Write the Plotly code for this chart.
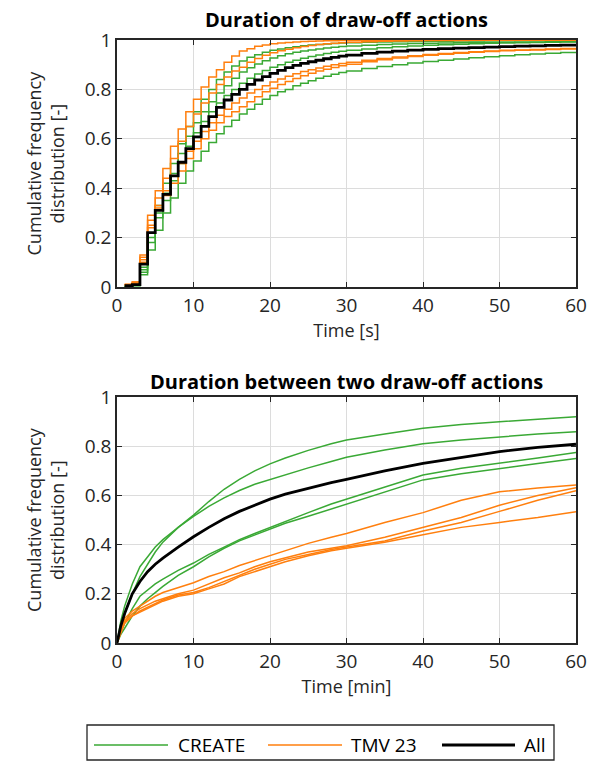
import plotly.graph_objects as go

# ---------------- Data: duration of draw-off actions (seconds) ----------------
x_top = [1, 2, 3, 4, 5, 6, 7, 8, 9, 10, 11, 12, 13, 14, 15, 16, 17, 18, 19, 20,
         21, 22, 23, 24, 25, 26, 27, 28, 29, 30, 32, 34, 36, 38, 40, 42, 44, 46,
         48, 50, 52, 54, 56, 58, 60]

create_top_1 = [0.003, 0.008, 0.08, 0.22, 0.33, 0.42, 0.50, 0.58, 0.65, 0.71, 0.76, 0.80,
                0.84, 0.87, 0.895, 0.915, 0.93, 0.94, 0.95, 0.958, 0.964, 0.969, 0.973,
                0.977, 0.98, 0.982, 0.984, 0.986, 0.988, 0.989, 0.991, 0.992, 0.993, 0.994,
                0.995, 0.995, 0.996, 0.996, 0.997, 0.997, 0.998, 0.998, 0.998, 0.999, 0.999]
create_top_2 = [0.003, 0.007, 0.07, 0.20, 0.30, 0.38, 0.46, 0.54, 0.61, 0.665, 0.71, 0.75,
                0.785, 0.815, 0.845, 0.87, 0.888, 0.903, 0.916, 0.927, 0.936, 0.944, 0.95,
                0.955, 0.96, 0.964, 0.968, 0.971, 0.974, 0.976, 0.979, 0.982, 0.984, 0.986,
                0.987, 0.988, 0.989, 0.99, 0.991, 0.991, 0.992, 0.992, 0.993, 0.993, 0.994]
create_top_3 = [0.003, 0.006, 0.06, 0.18, 0.28, 0.35, 0.43, 0.50, 0.57, 0.625, 0.67, 0.71,
                0.745, 0.775, 0.80, 0.825, 0.845, 0.862, 0.877, 0.89, 0.90, 0.91, 0.918,
                0.926, 0.933, 0.939, 0.945, 0.95, 0.954, 0.958, 0.964, 0.969, 0.973, 0.976,
                0.979, 0.981, 0.983, 0.985, 0.987, 0.988, 0.989, 0.99, 0.991, 0.992, 0.993]
create_top_4 = [0.002, 0.005, 0.05, 0.15, 0.23, 0.30, 0.36, 0.42, 0.47, 0.51, 0.55, 0.585,
                0.62, 0.65, 0.675, 0.70, 0.72, 0.74, 0.76, 0.775, 0.79, 0.80, 0.815, 0.825,
                0.835, 0.845, 0.853, 0.861, 0.868, 0.875, 0.885, 0.893, 0.90, 0.907, 0.913,
                0.918, 0.923, 0.928, 0.932, 0.936, 0.94, 0.943, 0.946, 0.949, 0.952]
tmv_top_1 = [0.01, 0.02, 0.13, 0.29, 0.39, 0.48, 0.57, 0.64, 0.71, 0.76, 0.81, 0.85, 0.88,
             0.91, 0.935, 0.955, 0.965, 0.975, 0.98, 0.985, 0.988, 0.99, 0.992, 0.994, 0.995,
             0.996, 0.997, 0.997, 0.998, 0.998, 0.999, 0.999, 0.999, 0.999, 1.0, 1.0, 1.0,
             1.0, 1.0, 1.0, 1.0, 1.0, 1.0, 1.0, 1.0]
tmv_top_2 = [0.008, 0.015, 0.11, 0.27, 0.36, 0.44, 0.52, 0.59, 0.65, 0.70, 0.745, 0.785,
             0.82, 0.85, 0.875, 0.89, 0.91, 0.925, 0.938, 0.948, 0.956, 0.963, 0.969, 0.974,
             0.978, 0.982, 0.985, 0.987, 0.989, 0.991, 0.993, 0.995, 0.996, 0.997, 0.998,
             0.998, 0.998, 0.999, 0.999, 0.999, 0.999, 0.999, 0.999, 0.999, 0.999]
tmv_top_3 = [0.01, 0.02, 0.12, 0.25, 0.33, 0.39, 0.45, 0.50, 0.55, 0.59, 0.63, 0.665, 0.695,
             0.72, 0.745, 0.765, 0.785, 0.80, 0.815, 0.83, 0.842, 0.853, 0.863, 0.872, 0.88,
             0.887, 0.894, 0.90, 0.905, 0.91, 0.918, 0.925, 0.931, 0.936, 0.941, 0.945,
             0.949, 0.952, 0.955, 0.958, 0.96, 0.962, 0.964, 0.966, 0.968]
tmv_top_4 = [0.01, 0.015, 0.10, 0.24, 0.32, 0.37, 0.42, 0.47, 0.52, 0.56, 0.60, 0.635,
             0.665, 0.69, 0.71, 0.73, 0.75, 0.77, 0.79, 0.805, 0.82, 0.832, 0.844, 0.855,
             0.865, 0.874, 0.882, 0.889, 0.896, 0.902, 0.912, 0.92, 0.927, 0.933, 0.938,
             0.942, 0.946, 0.95, 0.953, 0.956, 0.958, 0.96, 0.962, 0.964, 0.965]
all_top = [0.005, 0.01, 0.093, 0.22, 0.31, 0.375, 0.45, 0.505, 0.56, 0.608, 0.65, 0.69,
           0.727, 0.757, 0.78, 0.80, 0.82, 0.838, 0.852, 0.865, 0.877, 0.888, 0.897, 0.905,
           0.912, 0.918, 0.924, 0.93, 0.935, 0.939, 0.946, 0.951, 0.955, 0.959, 0.962,
           0.965, 0.967, 0.969, 0.971, 0.973, 0.975, 0.976, 0.978, 0.979, 0.98]

# ---------------- Data: duration between two draw-off actions (minutes) ----------------
x_bot = [0, 0.5, 1, 2, 3, 4, 5, 6, 8, 10, 12, 14, 16, 18, 20, 22, 25, 28, 30, 35, 40,
         45, 50, 55, 60]

create_bot_1 = [0, 0.07, 0.12, 0.20, 0.27, 0.32, 0.37, 0.41, 0.47, 0.52, 0.575, 0.625, 0.665,
                0.70, 0.728, 0.752, 0.783, 0.81, 0.825, 0.85, 0.873, 0.888, 0.90, 0.91, 0.92]
create_bot_2 = [0, 0.09, 0.15, 0.24, 0.31, 0.35, 0.39, 0.42, 0.47, 0.515, 0.555, 0.59, 0.62,
                0.645, 0.665, 0.685, 0.712, 0.738, 0.755, 0.785, 0.81, 0.825, 0.839, 0.85, 0.859]
create_bot_3 = [0, 0.045, 0.08, 0.14, 0.19, 0.215, 0.24, 0.26, 0.295, 0.325, 0.36, 0.39,
                0.42, 0.445, 0.47, 0.495, 0.53, 0.565, 0.585, 0.635, 0.683, 0.71, 0.73, 0.752, 0.774]
create_bot_4 = [0, 0.035, 0.06, 0.11, 0.15, 0.18, 0.205, 0.23, 0.275, 0.31, 0.35, 0.385,
                0.415, 0.44, 0.465, 0.487, 0.515, 0.545, 0.562, 0.612, 0.663, 0.688, 0.71, 0.73, 0.75]
tmv_bot_1 = [0, 0.06, 0.10, 0.13, 0.15, 0.17, 0.19, 0.205, 0.225, 0.245, 0.27, 0.29, 0.315,
             0.335, 0.355, 0.375, 0.405, 0.43, 0.445, 0.49, 0.53, 0.58, 0.615, 0.63, 0.642]
tmv_bot_2 = [0, 0.05, 0.09, 0.12, 0.14, 0.155, 0.17, 0.18, 0.20, 0.215, 0.24, 0.265, 0.285,
             0.31, 0.33, 0.345, 0.37, 0.385, 0.395, 0.43, 0.47, 0.51, 0.56, 0.60, 0.631]
tmv_bot_3 = [0, 0.05, 0.085, 0.11, 0.13, 0.145, 0.16, 0.175, 0.195, 0.205, 0.225, 0.25,
             0.275, 0.30, 0.32, 0.34, 0.36, 0.38, 0.39, 0.415, 0.455, 0.49, 0.535, 0.58, 0.619]
tmv_bot_4 = [0, 0.04, 0.08, 0.11, 0.125, 0.14, 0.155, 0.17, 0.19, 0.20, 0.22, 0.24, 0.27,
             0.29, 0.31, 0.33, 0.355, 0.375, 0.385, 0.41, 0.44, 0.47, 0.49, 0.51, 0.534]
all_bot = [0, 0.07, 0.12, 0.20, 0.25, 0.29, 0.32, 0.345, 0.39, 0.432, 0.47, 0.505, 0.535,
           0.56, 0.585, 0.605, 0.63, 0.652, 0.665, 0.70, 0.73, 0.755, 0.778, 0.795, 0.808]

x_ticks = [0, 10, 20, 30, 40, 50, 60]
y_ticks = [0, 0.2, 0.4, 0.6, 0.8, 1]
y_tick_text = ["0", "0.2", "0.4", "0.6", "0.8", "1"]
legend_names = ["CREATE", "TMV 23", "All"]

GREEN = "#3aa935"
ORANGE = "#ff7f0e"
BLACK = "#000000"
AXC = "#262626"
FONT = "Open Sans"
TICK_SIZE = 19
LABEL_SIZE = 18
TITLE_SIZE = 20

W, H = 590, 761
fig = go.Figure()

top_sets = [(create_top_1, GREEN, "CREATE"), (create_top_2, GREEN, "CREATE"),
            (create_top_3, GREEN, "CREATE"), (create_top_4, GREEN, "CREATE"),
            (tmv_top_1, ORANGE, "TMV 23"), (tmv_top_2, ORANGE, "TMV 23"),
            (tmv_top_3, ORANGE, "TMV 23"), (tmv_top_4, ORANGE, "TMV 23")]
for ys, col, name in top_sets:
    fig.add_trace(go.Scatter(x=x_top, y=ys, mode="lines", line=dict(color=col, width=1.5, shape="hv"),
                             name=name, showlegend=False, xaxis="x", yaxis="y"))
fig.add_trace(go.Scatter(x=x_top, y=all_top, mode="lines", line=dict(color=BLACK, width=2.8, shape="hv"),
                         name="All", showlegend=False, xaxis="x", yaxis="y"))

bot_sets = [(create_bot_1, GREEN, "CREATE"), (create_bot_2, GREEN, "CREATE"),
            (create_bot_3, GREEN, "CREATE"), (create_bot_4, GREEN, "CREATE"),
            (tmv_bot_1, ORANGE, "TMV 23"), (tmv_bot_2, ORANGE, "TMV 23"),
            (tmv_bot_3, ORANGE, "TMV 23"), (tmv_bot_4, ORANGE, "TMV 23")]
for ys, col, name in bot_sets:
    fig.add_trace(go.Scatter(x=x_bot, y=ys, mode="lines", line=dict(color=col, width=1.5),
                             name=name, showlegend=False, xaxis="x2", yaxis="y2"))
fig.add_trace(go.Scatter(x=x_bot, y=all_bot, mode="lines", line=dict(color=BLACK, width=2.8),
                         name="All", showlegend=False, xaxis="x2", yaxis="y2"))


def px_x(p):
    return p / W


def px_y(p):
    return 1 - p / H


xdom = [px_x(117), px_x(576)]
common_x = dict(range=[0, 60], tickvals=x_ticks, showgrid=True, gridcolor="#dcdcdc", gridwidth=1,
                showline=True, linecolor=AXC, linewidth=1.5, mirror="ticks", ticks="inside",
                ticklen=5, tickcolor=AXC, zeroline=False, automargin=False,
                tickfont=dict(size=TICK_SIZE, color=AXC, family=FONT), domain=xdom)
common_y = dict(range=[0, 1], tickvals=y_ticks, ticktext=y_tick_text, showgrid=True, gridcolor="#dcdcdc",
                gridwidth=1, showline=True, linecolor=AXC, linewidth=1.5, mirror="ticks", ticks="inside",
                ticklen=5, tickcolor=AXC, zeroline=False, automargin=False,
                tickfont=dict(size=TICK_SIZE, color=AXC, family=FONT))

top_dom = [px_y(287), px_y(40)]
bot_dom = [px_y(643), px_y(397)]

annotations = [
    dict(text="<b>Duration of draw-off actions</b>", x=(xdom[0] + xdom[1]) / 2, y=px_y(19),
         xref="paper", yref="paper", showarrow=False,
         font=dict(size=TITLE_SIZE, color="#000000", family=FONT), xanchor="center", yanchor="middle"),
    dict(text="<b>Duration between two draw-off actions</b>", x=(xdom[0] + xdom[1]) / 2, y=px_y(381),
         xref="paper", yref="paper", showarrow=False,
         font=dict(size=TITLE_SIZE, color="#000000", family=FONT), xanchor="center", yanchor="middle"),
    dict(text="Cumulative frequency<br>distribution [-]", textangle=-90, x=px_x(45),
         y=(top_dom[0] + top_dom[1]) / 2, xref="paper", yref="paper", showarrow=False,
         font=dict(size=LABEL_SIZE, color=AXC, family=FONT), xanchor="center", yanchor="middle"),
    dict(text="Cumulative frequency<br>distribution [-]", textangle=-90, x=px_x(45),
         y=(bot_dom[0] + bot_dom[1]) / 2, xref="paper", yref="paper", showarrow=False,
         font=dict(size=LABEL_SIZE, color=AXC, family=FONT), xanchor="center", yanchor="middle"),
]

# custom legend (box, long line samples, labels)
legend_y = px_y(745)
shapes = [dict(type="rect", xref="paper", yref="paper", x0=px_x(87), x1=px_x(554),
               y0=px_y(760), y1=px_y(725), line=dict(color=AXC, width=1.3), fillcolor="white", layer="below")]
legend_specs = [(GREEN, 1.5, 94, 168, 176), (ORANGE, 1.5, 268, 342, 349), (BLACK, 2.8, 442, 515, 522)]
for (col, wdt, lx0, lx1, tx), name in zip(legend_specs, legend_names):
    shapes.append(dict(type="line", xref="paper", yref="paper", x0=px_x(lx0), x1=px_x(lx1),
                       y0=legend_y, y1=legend_y, line=dict(color=col, width=wdt)))
    annotations.append(dict(text=name, x=px_x(tx), y=legend_y, xref="paper", yref="paper", showarrow=False,
                            xanchor="left", yanchor="middle",
                            font=dict(size=19, color="#000000", family=FONT)))

fig.update_layout(
    width=W, height=H, paper_bgcolor="white", plot_bgcolor="white",
    margin=dict(l=0, r=0, t=0, b=0, autoexpand=False),
    font=dict(family=FONT, size=TICK_SIZE, color=AXC),
    showlegend=False,
    xaxis=dict(common_x, anchor="y",
               title=dict(text="Time [s]", font=dict(size=LABEL_SIZE, color=AXC), standoff=0)),
    yaxis=dict(common_y, anchor="x", domain=top_dom),
    xaxis2=dict(common_x, anchor="y2",
                title=dict(text="Time [min]", font=dict(size=LABEL_SIZE, color=AXC), standoff=2)),
    yaxis2=dict(common_y, anchor="x2", domain=bot_dom),
    annotations=annotations,
    shapes=shapes,
)

fig.write_html("out.html", config={"displayModeBar": False},
               post_script="document.body.style.margin='0';document.body.style.overflow='hidden';"
                           "document.documentElement.style.overflow='hidden';")
